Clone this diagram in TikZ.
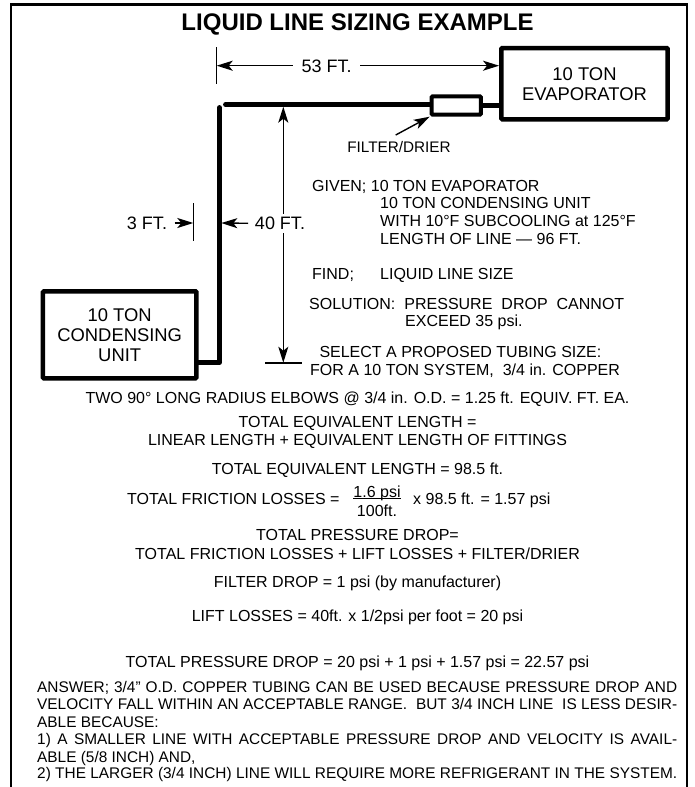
\documentclass[tikz,border=0pt]{standalone}
\usepackage{fontspec}
\setmainfont{Liberation Sans}
\usetikzlibrary{arrows.meta, positioning}
\newcommand{\answerline}[1]{\makebox[640pt][s]{#1}}
\tikzset{
  % Outer frame, open at the foot of the page
  frame/.style={line width=2.2pt, draw=black},
  % Equipment boxes
  unitbox/.style={
    rectangle, rounded corners=1pt,
    draw=black, fill=white, line width=4.5pt,
    font=\fontsize{18.4}{20}\selectfont,
    align=center
  },
  filterbox/.style={
    rectangle, rounded corners=1pt,
    draw=black, fill=white, line width=4pt,
    minimum width=49.3pt, minimum height=18.4pt, inner sep=0pt
  },
  % Refrigerant line
  pipe/.style={line width=4.8pt, line cap=round, line join=round},
  % Dimension lines
  dimline/.style={line width=1.4pt},
  dimarrow/.style={-{Stealth[length=16pt, width=10pt, inset=4pt]}, line width=1.4pt},
  % Text
  dimlabel/.style={font=\fontsize{18}{20}\selectfont, inner sep=0pt, text height=13pt, text depth=0pt},
  textline/.style={font=\fontsize{16}{18}\selectfont, inner sep=0pt, text height=11.5pt, text depth=0pt},
  noteline/.style={textline, anchor=west},
  answer/.style={noteline, font=\fontsize{15.4}{17}\selectfont, text height=11pt}
}

\begin{document}
\begin{tikzpicture}[x=1pt, y=-1pt]
  \useasboundingbox (0,0) rectangle (694,787);

  % ── Frame ─────────────────────────────────────────────────────────────────
  \coordinate (frameBL) at (11,787);
  \coordinate (frameTL) at (11,4.5);
  \coordinate (frameTR) at (687,4.5);
  \coordinate (frameBR) at (687,787);
  \draw[frame] (frameBL) -- (frameTL) -- (frameTR) -- (frameBR);

  \node[font=\fontsize{24}{26}\selectfont\bfseries, inner sep=0pt] (title) at (357.5,24.5) {LIQUID LINE SIZING EXAMPLE};

  % ── Equipment ─────────────────────────────────────────────────────────────
  \node[unitbox, minimum width=166.4pt, minimum height=71.3pt] (evap) at (584.5,83.7) {10 TON\\EVAPORATOR};
  \node[unitbox, minimum width=153.5pt, minimum height=87.1pt] (cond) at (119.7,334.8) {10 TON\\CONDENSING\\UNIT};
  \node[filterbox] (filter) at (456.3,105.5) {};

  % ── Liquid line ───────────────────────────────────────────────────────────
  \coordinate (elbowTop) at (219.3,107.5);
  \coordinate (elbowRight) at (225.5,104.7);
  \coordinate (elbowLow) at (219.3,362.7);
  \draw[pipe] (cond.east |- elbowLow) -- (elbowLow) -- (elbowTop);
  \draw[pipe] (elbowRight) -- (elbowRight -| filter.west);
  \draw[pipe] (filter.east) -- (evap.west |- filter);

  % ── Dimensions ────────────────────────────────────────────────────────────
  % 53 ft run
  \coordinate (runTickA) at (216.7,47);
  \coordinate (runTickB) at (216.7,84);
  \draw[dimline] (runTickA) -- (runTickB);
  \node[dimlabel] (runlabel) at (326.7,65.7) {53 FT.};
  \draw[dimarrow] ([xshift=-8.7pt]runlabel.west) -- (runTickA |- runlabel);
  \draw[dimarrow] ([xshift=8.3pt]runlabel.east) -- (evap.west |- runlabel);

  % 3 ft offset
  \coordinate (offTickA) at (193.3,203);
  \coordinate (offTickB) at (193.3,241);
  \draw[dimline] (offTickA) -- (offTickB);
  \node[dimlabel] (offlabel) at (147,223) {3 FT.};
  \draw[dimarrow] ([xshift=7.3pt]offlabel.east) -- (offTickA |- offlabel);
  \coordinate (offEnd) at (221.3,223);

  % 40 ft lift
  \coordinate (liftTop) at (283.3,106.7);
  \coordinate (liftLow) at (283.3,362.7);
  \coordinate (liftTickA) at (265,363);
  \coordinate (liftTickB) at (302.3,363);
  \draw[dimline] (liftTickA) -- (liftTickB);
  \draw[{Stealth[length=16pt, width=10pt, inset=4pt]}-{Stealth[length=16pt, width=10pt, inset=4pt]}, dimline] (liftTop) -- (liftLow);
  \node[dimlabel, fill=white, inner ysep=3pt] (liftlabel) at (280,223.3) {40 FT.};
  \draw[dimarrow] ([xshift=-6.7pt]liftlabel.west) -- (offEnd);

  % Filter callout
  \node[textline, font=\fontsize{15.3}{17}\selectfont] (filterlabel) at (399,146.7) {FILTER/DRIER};
  \coordinate (calloutTail) at (395.7,135);
  \draw[dimarrow] (calloutTail) -- (filter.south west);

  % ── Given, find, solution ─────────────────────────────────────────────────
  \node[noteline] (given) at (312,185.7) {GIVEN; 10 TON EVAPORATOR};
  \node[noteline] (given2) at (380,202.3) {10 TON CONDENSING UNIT};
  \node[noteline] (given3) at (380,220.7) {WITH 10°F SUBCOOLING at 125°F};
  \node[noteline] (given4) at (380,239) {LENGTH OF LINE — 96 FT.};
  \node[noteline] (find) at (312,274) {FIND;};
  \node[noteline] (find2) at (380,274) {LIQUID LINE SIZE};
  \node[noteline] (solve) at (309,304) {SOLUTION:\hspace{9pt}PRESSURE\hspace{9pt}DROP\hspace{9pt}CANNOT};
  \node[noteline] (solve2) at (405,320.7) {EXCEED 35 psi.};
  \node[noteline] (select) at (319.3,351.7) {SELECT A PROPOSED TUBING SIZE:};
  \node[noteline] (select2) at (310,369.3) {FOR A 10 TON SYSTEM,\ \ 3/4 in. COPPER};

  % ── Calculation ───────────────────────────────────────────────────────────
  \node[textline] (elbows) at (357.5,397.3) {TWO 90° LONG RADIUS ELBOWS @ 3/4 in. O.D. = 1.25 ft. EQUIV. FT. EA.};
  \node[textline] (equiv) at (357.5,421.3) {TOTAL EQUIVALENT LENGTH =};
  \node[textline, below=6.5pt of equiv] (equiv2) {LINEAR LENGTH + EQUIVALENT LENGTH OF FITTINGS};
  \node[textline] (equiv3) at (357.5,468.3) {TOTAL EQUIVALENT LENGTH = 98.5 ft.};
  \node[textline, anchor=west] (friction) at (127,498.3) {TOTAL FRICTION LOSSES =};
  \node[textline] (fracTop) at (377,491.7) {1.6 psi};
  \node[textline] (fracLow) at (377,511) {100ft.};
  \draw[line width=1pt] ([yshift=-1pt]fracTop.south west) -- ([yshift=-1pt]fracTop.south east);
  \node[textline, anchor=west] (friction2) at (413,498.3) {x 98.5 ft. = 1.57 psi};
  \node[textline] (drop) at (357.5,535) {TOTAL PRESSURE DROP=};
  \node[textline, below=6.8pt of drop] (drop2) {TOTAL FRICTION LOSSES + LIFT LOSSES + FILTER/DRIER};
  \node[textline] (filterdrop) at (357.5,581.7) {FILTER DROP = 1 psi (by manufacturer)};
  \node[textline] (lift) at (357.5,615.7) {LIFT LOSSES = 40ft. x 1/2psi per foot = 20 psi};
  \node[textline] (total) at (357.5,662) {TOTAL PRESSURE DROP = 20 psi + 1 psi + 1.57 psi = 22.57 psi};

  % ── Answer ────────────────────────────────────────────────────────────────
  \node[answer] (ans1) at (37,686.7) {\answerline{ANSWER; 3/4” O.D. COPPER TUBING CAN BE USED BECAUSE PRESSURE DROP AND}};
  \node[answer] (ans2) at (37,703.6) {\answerline{VELOCITY FALL WITHIN AN ACCEPTABLE RANGE.\ \ BUT 3/4 INCH LINE\ \ IS LESS DESIR-}};
  \node[answer] (ans3) at (37,721.7) {ABLE BECAUSE:};
  \node[answer] (ans4) at (37,738.6) {\answerline{1) A SMALLER LINE WITH ACCEPTABLE PRESSURE DROP AND VELOCITY IS AVAIL-}};
  \node[answer] (ans5) at (37,756.7) {ABLE (5/8 INCH) AND,};
  \node[answer] (ans6) at (37,773.4) {\answerline{2) THE LARGER (3/4 INCH) LINE WILL REQUIRE MORE REFRIGERANT IN THE SYSTEM.}};
\end{tikzpicture}
\end{document}
